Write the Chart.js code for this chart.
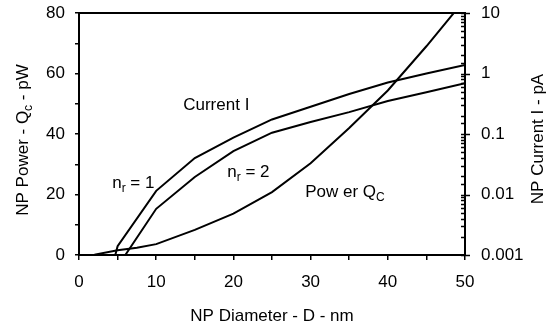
<!DOCTYPE html>
<html>
<head>
<meta charset="utf-8">
<script src="https://cdn.jsdelivr.net/npm/chart.js@4.4.1/dist/chart.umd.min.js"></script>
<style>
  html, body { margin: 0; padding: 0; background: #fff; }
</style>
</head>
<body>
<canvas id="npChart" width="551" height="327"></canvas>
<script>
// NP diameter (nm) vs power Q_c (pW, left axis)
const diameter = [0, 2, 5, 7.5, 10, 15, 20, 25, 30, 35, 40, 45, 50];
const powerQc = [0, 0.1, 1.6, 2.4, 3.6, 8.3, 13.7, 20.8, 30.3, 42, 54.4, 69, 84.5];

// NP current I (pA, right log axis)
const diameterN1 = [4.7, 5, 10, 15, 20, 25, 30, 35, 40, 45, 50];
const currentN1 = [0.001, 0.0014, 0.0115, 0.040, 0.087, 0.174, 0.282, 0.457, 0.708, 1.0, 1.38];
const diameterN2 = [6, 10, 15, 20, 25, 30, 35, 40, 45, 50];
const currentN2 = [0.001, 0.0058, 0.0195, 0.052, 0.105, 0.158, 0.23, 0.35, 0.49, 0.69];

const currentTicks = [0.001, 0.01, 0.1, 1, 10];

const FONT = '"Liberation Sans", Arial, sans-serif';

function toPoints (xs, ys) {
  return xs.map((x, i) => ({ x: x, y: ys[i] }));
}

// text with subscripts, parts = [{t, sub}]
function richWidth (ctx, parts) {
  let w = 0;
  parts.forEach(p => {
    ctx.font = (p.sub ? '12px ' : '17px ') + FONT;
    w += ctx.measureText(p.t).width;
  });
  return w;
}
function richText (ctx, parts, x, y) {
  let cx = x;
  parts.forEach(p => {
    ctx.font = (p.sub ? '12px ' : '17px ') + FONT;
    ctx.fillText(p.t, cx, p.sub ? y + 4 : y);
    cx += ctx.measureText(p.t).width;
  });
}

const labels = [
  { parts: [{ t: 'Current I' }], x: 13.5, y: 47.9 },
  { parts: [{ t: 'n' }, { t: 'r', sub: true }, { t: ' = 1' }], x: 4.3, y: 22.1 },
  { parts: [{ t: 'n' }, { t: 'r', sub: true }, { t: ' = 2' }], x: 19.2, y: 25.8 },
  { parts: [{ t: 'Pow er Q' }, { t: 'C', sub: true }], x: 29.3, y: 19.2 }
];

const decorPlugin = {
  id: 'decor',
  afterDraw (chart) {
    const ctx = chart.ctx;
    const area = chart.chartArea;
    const xs = chart.scales.x, ys = chart.scales.y, y2 = chart.scales.y2;
    ctx.save();
    ctx.strokeStyle = '#000';
    ctx.fillStyle = '#000';

    // frame
    ctx.lineWidth = 2;
    ctx.strokeRect(area.left, area.top, area.right - area.left, area.bottom - area.top);

    // log axis ticks: majors cross, minors inside
    ctx.lineWidth = 1.5;
    y2.ticks.forEach(t => {
      const py = Math.round(y2.getPixelForValue(t.value)) + 0.5;
      const l = Math.log10(t.value);
      const major = Math.abs(l - Math.round(l)) < 1e-6;
      ctx.beginPath();
      ctx.moveTo(area.right - 4, py);
      ctx.lineTo(major ? area.right + 5 : area.right, py);
      ctx.stroke();
    });

    // annotations
    ctx.textAlign = 'left';
    ctx.textBaseline = 'alphabetic';
    labels.forEach(lb => {
      richText(ctx, lb.parts, xs.getPixelForValue(lb.x), ys.getPixelForValue(lb.y));
    });

    // axis titles
    ctx.font = '17px ' + FONT;
    ctx.textAlign = 'center';
    ctx.fillText('NP Diameter - D - nm', 272, 321);

    const leftTitle = [{ t: 'NP Power - Q' }, { t: 'c', sub: true }, { t: ' - pW' }];
    ctx.save();
    ctx.translate(28, 140);
    ctx.rotate(-Math.PI / 2);
    ctx.textAlign = 'left';
    richText(ctx, leftTitle, -richWidth(ctx, leftTitle) / 2, 0);
    ctx.restore();

    ctx.save();
    ctx.translate(543, 139);
    ctx.rotate(-Math.PI / 2);
    ctx.font = '17px ' + FONT;
    ctx.textAlign = 'center';
    ctx.fillText('NP Current I - pA', 0, 0);
    ctx.restore();

    ctx.restore();
  }
};

const lineStyle = {
  borderColor: '#000',
  borderWidth: 2,
  pointRadius: 0,
  fill: false,
  tension: 0
};

function fitVertical (width) {
  return s => {
    s.width = width;
    s.paddingTop = 0;
    s.paddingBottom = 0;
  };
}

const config = {
  type: 'line',
  data: {
    datasets: [
      Object.assign({ label: 'Power Qc', data: toPoints(diameter, powerQc), yAxisID: 'y' }, lineStyle),
      Object.assign({ label: 'Current I, nr = 1', data: toPoints(diameterN1, currentN1), yAxisID: 'y2' }, lineStyle),
      Object.assign({ label: 'Current I, nr = 2', data: toPoints(diameterN2, currentN2), yAxisID: 'y2' }, lineStyle)
    ]
  },
  options: {
    responsive: false,
    animation: false,
    devicePixelRatio: 1,
    layout: { padding: { top: 13, left: 0, right: 0, bottom: 0 } },
    plugins: {
      legend: { display: false },
      tooltip: { enabled: false }
    },
    scales: {
      x: {
        type: 'linear',
        min: 0,
        max: 50,
        ticks: {
          stepSize: 5,
          autoSkip: false,
          maxRotation: 0,
          padding: 12,
          color: '#000',
          font: { family: FONT, size: 17 },
          callback: v => (v % 10 === 0 ? v : '')
        },
        grid: { drawOnChartArea: false, color: '#000', lineWidth: 1.5, tickLength: 5 },
        border: { display: false },
        afterFit: s => {
          s.height = 72;
          s.paddingLeft = 0;
          s.paddingRight = 0;
        }
      },
      y: {
        position: 'left',
        min: 0,
        max: 80,
        ticks: {
          stepSize: 10,
          autoSkip: false,
          padding: 10,
          color: '#000',
          font: { family: FONT, size: 17 },
          callback: v => (v % 20 === 0 ? v : '')
        },
        grid: { drawOnChartArea: false, color: '#000', lineWidth: 1.5, tickLength: 4 },
        border: { display: false },
        afterFit: fitVertical(79)
      },
      y2: {
        type: 'logarithmic',
        position: 'right',
        min: 0.001,
        max: 10,
        ticks: {
          autoSkip: false,
          padding: 16,
          color: '#000',
          font: { family: FONT, size: 17 },
          callback: v => {
            const t = currentTicks.find(c => Math.abs(c - v) / c < 1e-6);
            return t === undefined ? '' : String(t);
          }
        },
        grid: { display: false, drawTicks: false },
        border: { display: false },
        afterFit: fitVertical(86)
      }
    }
  },
  plugins: [decorPlugin]
};

var npChart = new Chart(document.getElementById('npChart'), config);
</script>
</body>
</html>
